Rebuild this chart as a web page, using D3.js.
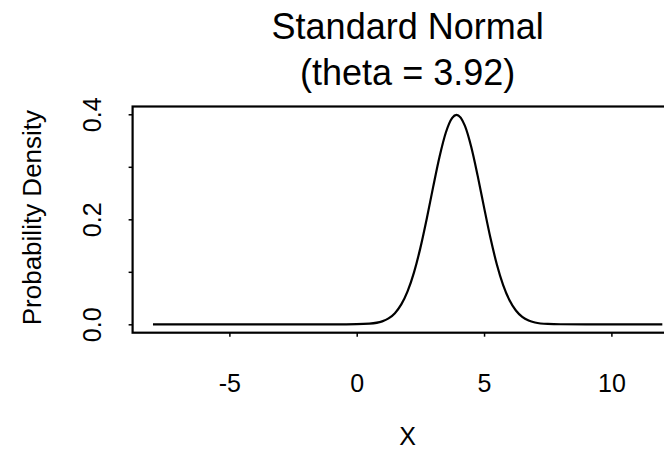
<!DOCTYPE html>
<html>
<head>
<meta charset="utf-8">
<script src="https://cdn.jsdelivr.net/npm/d3@7"></script>
<style>
  html, body { margin: 0; padding: 0; background: #fff; }
  svg { display: block; }
  text { font-family: "Liberation Sans", Arial, Helvetica, sans-serif; fill: #000; }
</style>
</head>
<body>
<div id="chart"></div>
<script>
// Density curve of a normal distribution centred on theta
const theta = 3.92;
const xValues = [-8, -6, -4, -2, -1, 0, 0.5, 1, 1.25, 1.5, 1.75, 2, 2.25, 2.5, 2.75, 3, 3.25, 3.5, 3.75, 3.92,
                 4.25, 4.5, 4.75, 5, 5.25, 5.5, 5.75, 6, 6.25, 6.5, 6.75, 7, 7.5, 8, 9, 10, 11, 12];
const densityValues = [0, 0, 0, 0, 0, 0.0002, 0.0012, 0.0056, 0.0113, 0.0213, 0.0379, 0.0632, 0.0989, 0.1456, 0.2012, 0.2613, 0.3187, 0.3653, 0.3932, 0.3989,
                 0.3778, 0.3372, 0.2827, 0.2227, 0.1647, 0.1145, 0.0748, 0.0459, 0.0264, 0.0143, 0.0073, 0.0035, 0.0007, 0.0001, 0, 0, 0, 0];
const xTicks = [-5, 0, 5, 10];
const yTicks = [0, 0.1, 0.2, 0.3, 0.4];
const yTickLabels = ["0.0", "", "0.2", "", "0.4"];

const width = 664, height = 449;
const box = { left: 132.6, right: 682.7, top: 106.5, bottom: 332.7 };

const points = xValues.map((x, i) => ({ x, y: densityValues[i] }));

// Pad both ranges by 4% on each side
function padded(ext) {
  const d = (ext[1] - ext[0]) * 0.04;
  return [ext[0] - d, ext[1] + d];
}

const x = d3.scaleLinear().domain(padded(d3.extent(xValues))).range([box.left, box.right]);
const y = d3.scaleLinear().domain(padded(d3.extent(densityValues))).range([box.bottom, box.top]);

const svg = d3.select("#chart").append("svg")
  .attr("width", width).attr("height", height);

// Plot frame
svg.append("rect")
  .attr("x", box.left).attr("y", box.top)
  .attr("width", box.right - box.left).attr("height", box.bottom - box.top)
  .attr("fill", "none").attr("stroke", "#000").attr("stroke-width", 2.2);

// Bottom axis
const xAxis = svg.append("g")
  .attr("transform", `translate(0,${box.bottom})`)
  .call(d3.axisBottom(x).tickValues(xTicks).tickSize(4).tickPadding(0).tickFormat(d3.format("d")));
xAxis.select(".domain").remove();
xAxis.selectAll(".tick line").attr("stroke", "#000").attr("stroke-width", 1.5);
xAxis.selectAll(".tick text")
  .attr("y", 0).attr("dy", 0)
  .attr("transform", "translate(0,59)")
  .style("font-size", "25px")
  .text(d => d < 0 ? "-" + Math.abs(d) : d);

// Left axis
const yAxis = svg.append("g")
  .attr("transform", `translate(${box.left},0)`)
  .call(d3.axisLeft(y).tickValues(yTicks).tickSize(4).tickPadding(0).tickFormat((d, i) => yTickLabels[i]));
yAxis.select(".domain").remove();
yAxis.selectAll(".tick line").attr("stroke", "#000").attr("stroke-width", 1.5);
yAxis.selectAll(".tick text")
  .attr("x", 0).attr("dy", 0)
  .attr("text-anchor", "middle")
  .attr("transform", "translate(-32,0) rotate(-90)")
  .style("font-size", "25px");

// Density curve
svg.append("path")
  .datum(points)
  .attr("fill", "none")
  .attr("stroke", "#000")
  .attr("stroke-width", 2.2)
  .attr("stroke-linejoin", "round")
  .attr("d", d3.line().x(d => x(d.x)).y(d => y(d.y)).curve(d3.curveMonotoneX));

// Titles
const cx = (box.left + box.right) / 2;
svg.append("text").attr("x", cx).attr("y", 38.5)
  .attr("text-anchor", "middle").style("font-size", "36px").text("Standard Normal");
svg.append("text").attr("x", cx).attr("y", 85)
  .attr("text-anchor", "middle").style("font-size", "36px").text(`(theta = ${theta})`);

svg.append("text").attr("x", cx).attr("y", 445)
  .attr("text-anchor", "middle").style("font-size", "25px").text("X");

svg.append("text")
  .attr("transform", `translate(41,${(box.top + box.bottom) / 2 - 2}) rotate(-90)`)
  .attr("text-anchor", "middle").style("font-size", "26px").text("Probability Density");
</script>
</body>
</html>
